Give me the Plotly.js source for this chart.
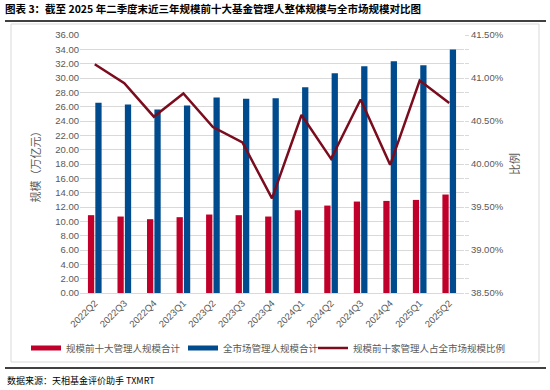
<!DOCTYPE html>
<html>
<head>
<meta charset="utf-8">
<script src="https://cdn.plot.ly/plotly-3.0.1.min.js"></script>
<style>html,body{margin:0;padding:0;background:#fff;}#chart{width:550px;height:390px;}</style>
</head>
<body>
<div id="chart"></div>
<script>
const quarters = ['2022Q2','2022Q3','2022Q4','2023Q1','2023Q2','2023Q3','2023Q4','2024Q1','2024Q2','2024Q3','2024Q4','2025Q1','2025Q2'];
const top10Scale = [10.86, 10.67, 10.30, 10.58, 10.95, 10.86, 10.67, 11.55, 12.20, 12.76, 12.85, 12.99, 13.74];
const marketScale = [26.54, 26.31, 25.61, 26.17, 27.29, 27.10, 27.19, 28.72, 30.67, 31.65, 32.34, 31.79, 33.97];
const top10Share = [41.16, 40.94, 40.55, 40.82, 40.43, 40.25, 39.60, 40.57, 40.06, 40.75, 39.99, 40.97, 40.71];
const seriesNames = ['规模前十大管理人规模合计', '全市场管理人规模合计', '规模前十家管理人占全市场规模比例'];
const chartTitle = '图表 3：截至 2025 年二季度末近三年规模前十大基金管理人整体规模与全市场规模对比图';
const sourceText = '数据来源：天相基金评价助手 TXMRT';

const W = 550, H = 390;
const M = {l: 80, r: 86, t: 35, b: 97};
const pw = W - M.l - M.r, ph = H - M.t - M.b;
const px = x => (x - M.l) / pw;
const py = y => (H - M.b - y) / ph;

const font = '"Liberation Sans", Arial, "Noto Sans CJK SC", sans-serif';
const cjk = '"Noto Sans CJK SC", "Liberation Sans", sans-serif';
const colors = ['#C0002A', '#004B8D', '#7A0C1E'];

const traces = [
  {type: 'bar', x: quarters, y: top10Scale, name: seriesNames[0], marker: {color: colors[0]}, showlegend: false},
  {type: 'bar', x: quarters, y: marketScale, name: seriesNames[1], marker: {color: colors[1]}, showlegend: false},
  {type: 'scatter', mode: 'lines', x: quarters, y: top10Share, name: seriesNames[2], yaxis: 'y2',
   line: {color: colors[2], width: 2.5}, showlegend: false},
  // legend entries (thick flat swatches as in the reference)
  {type: 'scatter', mode: 'lines', x: [null], y: [null], name: seriesNames[0], legend: 'legend',
   line: {color: colors[0], width: 5}, hoverinfo: 'skip'},
  {type: 'scatter', mode: 'lines', x: [null], y: [null], name: seriesNames[1], legend: 'legend2',
   line: {color: colors[1], width: 5}, hoverinfo: 'skip'},
  {type: 'scatter', mode: 'lines', x: [null], y: [null], name: seriesNames[2], legend: 'legend3', yaxis: 'y2',
   line: {color: colors[2], width: 2.5}, hoverinfo: 'skip'}
];

const legendBase = (xpx) => ({
  orientation: 'h', x: px(xpx), xanchor: 'left', y: py(348), yanchor: 'middle',
  font: {family: cjk, size: 9.5, color: '#595959'}, itemwidth: 30, bgcolor: 'rgba(0,0,0,0)', borderwidth: 0
});

const layout = {
  width: W, height: H,
  margin: M,
  paper_bgcolor: '#fff', plot_bgcolor: '#fff',
  barmode: 'group', bargap: 0.5, bargroupgap: 0.15,
  showlegend: true,
  font: {family: font, color: '#595959', size: 10},
  title: {text: chartTitle, x: 5 / W, xanchor: 'left', y: 1 - 9 / H, yanchor: 'middle',
          font: {family: cjk, size: 10.5, color: '#000', weight: 'bold'}},
  xaxis: {tickangle: -45, tickfont: {size: 9.5, color: '#595959'}, showline: true, linecolor: '#D9D9D9',
          linewidth: 1, ticks: '', showgrid: false, fixedrange: true},
  yaxis: {range: [0, 36], dtick: 2, tickformat: '.2f', showgrid: true, gridcolor: '#D9D9D9', gridwidth: 1,
          zeroline: false, showline: false, tickfont: {size: 9.5, color: '#595959'},
          title: {text: '规模（万亿元）', font: {family: cjk, size: 11, color: '#595959'}, standoff: 12}},
  yaxis2: {range: [38.5, 41.5], dtick: 0.5, tickformat: '.2f', ticksuffix: '%', overlaying: 'y', side: 'right',
           showgrid: false, zeroline: false, showline: false, ticks: 'outside', ticklen: 4, tickcolor: '#D9D9D9',
           minor: {dtick: 0.5 / 3, ticks: 'outside', ticklen: 4, tickcolor: '#D9D9D9'},
           tickfont: {size: 9.5, color: '#595959'},
           title: {text: '比例', font: {family: cjk, size: 11, color: '#595959'}, standoff: 8}},
  legend: legendBase(26),
  legend2: legendBase(183),
  legend3: legendBase(313),
  shapes: [
    {type: 'line', xref: 'paper', yref: 'paper', x0: px(5), x1: px(546), y0: py(21), y1: py(21),
     line: {color: '#000', width: 1.5}},
    {type: 'rect', xref: 'paper', yref: 'paper', x0: px(11), x1: px(539), y0: py(362), y1: py(24),
     line: {color: '#D9D9D9', width: 1}, layer: 'below'},
    {type: 'line', xref: 'paper', yref: 'paper', x0: px(5), x1: px(546), y0: py(368), y1: py(368),
     line: {color: '#000', width: 1.5}}
  ],
  annotations: [
    {text: sourceText, xref: 'paper', yref: 'paper', x: px(5), y: py(380), xanchor: 'left', yanchor: 'middle',
     showarrow: false, font: {family: cjk, size: 9, color: '#000'}}
  ]
};

Plotly.newPlot('chart', traces, layout, {displayModeBar: false, staticPlot: true});
</script>
</body>
</html>
